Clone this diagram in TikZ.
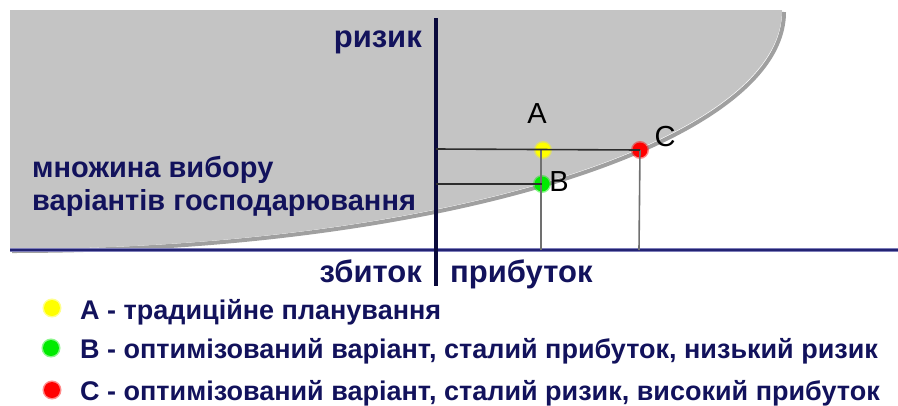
\documentclass[tikz,border=0pt]{standalone}
\usepackage{fontspec}
\setmainfont{Liberation Sans}
\begin{document}
\begin{tikzpicture}[x=1pt,y=1pt,
  txt/.style={inner sep=0pt,text=navytext,font=\fontsize{27}{32}\selectfont\bfseries},
  big/.style={txt,font=\fontsize{29}{34}\selectfont\bfseries},
  axl/.style={txt,font=\fontsize{31}{36}\selectfont\bfseries},
  lbl/.style={inner sep=0pt,text=black,font=\fontsize{29}{34}\selectfont},
  dotn/.style={circle,inner sep=0pt,minimum size=15pt,draw=#1,draw opacity=0.45,line width=3pt,fill=#1},
  hline/.style={draw=linedark,line width=1.6pt},
  vline/.style={draw=linegrey,line width=1.6pt}]
\definecolor{navytext}{RGB}{18,18,92}
\definecolor{regiongrey}{RGB}{196,196,196}
\definecolor{shadowgrey}{RGB}{160,160,160}
\definecolor{linedark}{RGB}{45,45,45}
\definecolor{linegrey}{RGB}{112,112,112}
\definecolor{axisnavy}{RGB}{35,35,115}
\definecolor{axisedge}{RGB}{125,125,185}
\definecolor{vaxis}{RGB}{10,10,60}
\definecolor{dotyellow}{RGB}{255,255,0}
\definecolor{dotgreen}{RGB}{0,235,0}
\definecolor{dotred}{RGB}{255,0,0}
\useasboundingbox (0,0) rectangle (898,-405);
% region with shadow
\draw[shadowgrey,line width=4pt] (784,-12) arc[start angle=0,end angle=-90,x radius=772,y radius=239];
\fill[regiongrey] (10,-10) -- (782,-10) arc[start angle=0,end angle=-90,x radius=772,y radius=239] -- cycle;
% axes
\coordinate (hl) at (10,-250);
\coordinate (hr) at (898,-250);
\coordinate (vt) at (436,-18);
\coordinate (vb) at (436,-286);
\draw[axisedge,line width=4.5pt] (hl) -- (hr);
\draw[axisnavy,line width=2.2pt] (hl) -- (hr);
\draw[vaxis,line width=3.5pt] (vt) -- (vb);
% points
\coordinate (ay) at (436,-149);
\coordinate (by) at (436,-184);
\coordinate (ax) at (541,-250);
\coordinate (cx) at (639,-250);
\node[dotn=dotyellow] (a) at (543,-150) {};
\node[dotn=dotgreen] (b) at (542,-184) {};
\node[dotn=dotred] (c) at (640,-150) {};
\draw[vline] (541,-150) -- (ax);
\draw[vline] (c.center) -- (cx);
\draw[hline] (ay) -- (c.center);
\draw[hline] (by) -- (b.center);
\node[lbl] (la) at (537,-114) {A};
\node[lbl] (lb) at (559,-182) {B};
\node[lbl] (lc) at (665,-137) {C};
% labels
\node[axl,anchor=base east] (risk) at (422,-47) {ризик};
\node[big,anchor=base west] (set1) at (32,-177) {множина вибору};
\node[big,anchor=base west] (set2) at (32,-210) {варіантів господарювання};
\node[axl,anchor=base east] (loss) at (422,-282) {збиток};
\node[axl,anchor=base west] (profit) at (450,-282) {прибуток};
% legend
\node[dotn=dotyellow,minimum size=16pt] (ka) at (52,-308) {};
\node[dotn=dotgreen,minimum size=16pt] (kb) at (51,-348) {};
\node[dotn=dotred,minimum size=16pt] (kc) at (52,-390) {};
\node[txt,anchor=base west] (ta) at (80,-319) {А - традиційне планування};
\node[txt,anchor=base west] (tb) at (80,-358) {В - оптимізований варіант, сталий прибуток, низький ризик};
\node[txt,anchor=base west] (tc) at (80,-400) {С - оптимізований варіант, сталий ризик, високий прибуток};
\end{tikzpicture}
\end{document}
